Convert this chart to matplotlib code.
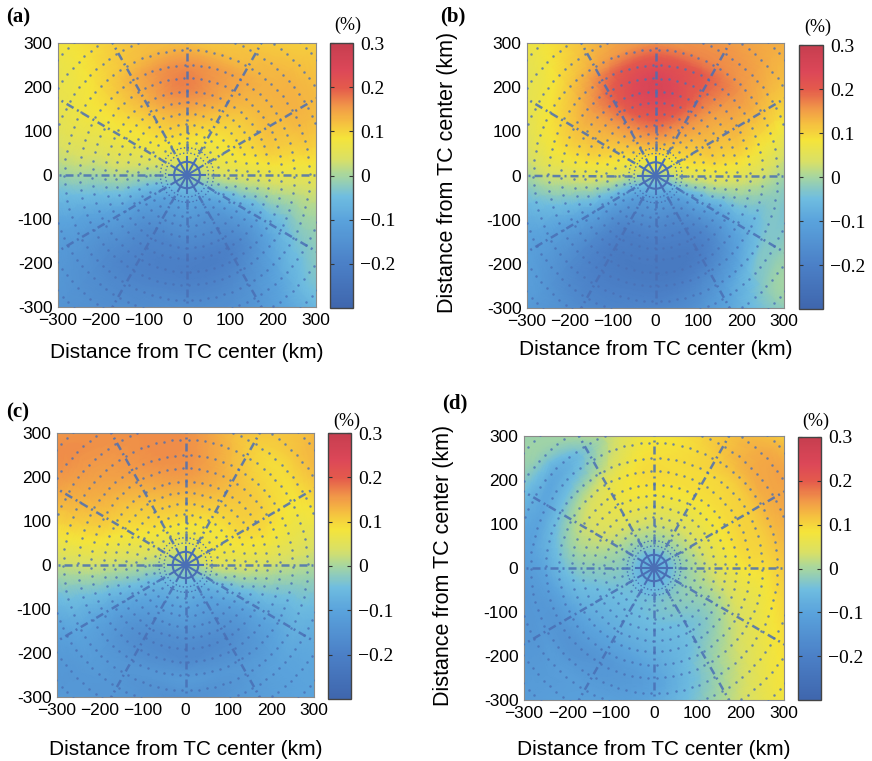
import numpy as np
import matplotlib
matplotlib.use("Agg")
import matplotlib.pyplot as plt
from matplotlib.colors import LinearSegmentedColormap
from matplotlib.tri import Triangulation, UniformTriRefiner

plt.rcParams["font.family"] = ["Liberation Sans", "DejaVu Sans"]

# composite fields sampled on a storm-relative polar grid
# azimuth in degrees counterclockwise from east, radius in km
azimuths = [0, 45, 90, 135, 180, 225, 270, 315]
radii = [50, 100, 150, 200, 250, 300, 350, 450]

center_a = 0.0
field_a = [
    [0.02, 0.04, 0.05, 0.06, 0.06, 0.06, 0.05, 0.04],
    [0.05, 0.08, 0.10, 0.12, 0.13, 0.13, 0.12, 0.10],
    [0.06, 0.10, 0.14, 0.17, 0.16, 0.12, 0.11, 0.10],
    [0.05, 0.08, 0.09, 0.10, 0.10, 0.09, 0.08, 0.08],
    [0.00, 0.00, 0.01, 0.00, 0.00, -0.01, -0.01, -0.01],
    [-0.07, -0.12, -0.15, -0.16, -0.17, -0.16, -0.15, -0.14],
    [-0.08, -0.13, -0.17, -0.20, -0.19, -0.16, -0.15, -0.14],
    [-0.06, -0.11, -0.14, -0.15, -0.12, -0.09, -0.07, -0.06],
]

center_b = 0.0
field_b = [
    [0.03, 0.05, 0.06, 0.05, 0.03, 0.00, -0.01, -0.01],
    [0.08, 0.12, 0.14, 0.15, 0.16, 0.15, 0.14, 0.13],
    [0.10, 0.17, 0.22, 0.25, 0.22, 0.16, 0.14, 0.12],
    [0.08, 0.12, 0.14, 0.15, 0.13, 0.10, 0.08, 0.07],
    [0.02, 0.04, 0.05, 0.04, 0.03, 0.00, -0.01, -0.02],
    [-0.08, -0.13, -0.16, -0.17, -0.17, -0.16, -0.14, -0.12],
    [-0.10, -0.16, -0.20, -0.22, -0.21, -0.18, -0.16, -0.14],
    [-0.08, -0.13, -0.16, -0.16, -0.12, -0.06, -0.03, -0.03],
]

center_c = 0.0
field_c = [
    [0.03, 0.04, 0.04, 0.03, 0.02, 0.01, 0.01, 0.02],
    [0.06, 0.08, 0.10, 0.11, 0.10, 0.09, 0.11, 0.13],
    [0.05, 0.09, 0.12, 0.15, 0.16, 0.16, 0.15, 0.14],
    [0.04, 0.08, 0.10, 0.12, 0.14, 0.15, 0.16, 0.15],
    [0.00, 0.01, 0.02, 0.03, 0.03, 0.02, 0.02, 0.02],
    [-0.05, -0.09, -0.12, -0.14, -0.13, -0.12, -0.13, -0.12],
    [-0.06, -0.10, -0.14, -0.17, -0.13, -0.15, -0.14, -0.13],
    [-0.05, -0.09, -0.12, -0.13, -0.12, -0.10, -0.10, -0.10],
]

center_d = -0.08
field_d = [
    [-0.03, 0.01, 0.05, 0.08, 0.09, 0.11, 0.12, 0.10],
    [-0.02, 0.03, 0.07, 0.09, 0.10, 0.13, 0.14, 0.08],
    [-0.02, 0.03, 0.07, 0.09, 0.09, 0.08, 0.08, 0.05],
    [-0.03, 0.02, 0.05, 0.04, -0.02, -0.08, -0.03, -0.01],
    [-0.04, -0.02, -0.02, -0.04, -0.09, -0.12, -0.10, -0.08],
    [-0.05, -0.05, -0.07, -0.10, -0.14, -0.12, -0.12, -0.12],
    [-0.05, -0.04, -0.06, -0.08, -0.10, -0.09, -0.07, -0.06],
    [-0.04, -0.02, -0.03, -0.01, 0.02, 0.04, 0.06, 0.08],
]

panel_labels = ["(a)", "(b)", "(c)", "(d)"]
axis_ticks = [-300, -200, -100, 0, 100, 200, 300]
xtick_labels = ["\u2212300", "\u2212200", "\u2212100", "0", "100", "200", "300"]
ytick_labels = ["-300", "-200", "-100", "0", "100", "200", "300"]
cbar_ticks = [-0.2, -0.1, 0, 0.1, 0.2, 0.3]
cbar_ticklabels = ["\u22120.2", "\u22120.1", "0", "0.1", "0.2", "0.3"]

# overlay of the polar analysis grid
spoke_angles = np.arange(0, 360, 30)
hub_spokes = np.arange(0, 360, 30)
dot_rings = [75, 95, 115, 140, 165, 190, 220, 250, 285, 320, 360, 400]
dotted_circles = [50, 62]

cmap = LinearSegmentedColormap.from_list("tc", [
    (0.0, "#3f66ad"), (0.167, "#4b80c7"), (0.333, "#5aa3dc"), (0.42, "#6fbde0"),
    (0.5, "#a6d6a0"), (0.56, "#d9e066"), (0.64, "#f5e43a"), (0.70, "#f5c040"),
    (0.76, "#f19848"), (0.833, "#e45a4c"), (0.9, "#dc4758"), (1.0, "#c63e4f"),
])
grid_color = "#4a6fb5"

W, H = 872, 761
fig = plt.figure(figsize=(W / 100, H / 100), dpi=100)


def frac(l, t, r, b):
    return [l / W, 1 - b / H, (r - l) / W, (b - t) / H]


# pixel boxes: axes, colorbar, label spot, (%) spot, xlabel pad, ylabel pad
layout = [
    dict(ax=(58, 43, 316, 307), cax=(330, 43, 353, 308), lab=(6, 17), pct=(348, 25), xpad=11, ypad=None),
    dict(ax=(527, 43, 784, 308), cax=(799, 45, 823, 309), lab=(440, 16), pct=(818, 27), xpad=8, ypad=11),
    dict(ax=(57, 433, 314, 697), cax=(328, 433, 351, 699), lab=(6, 412), pct=(347, 421), xpad=16, ypad=None),
    dict(ax=(524, 436, 784, 700), cax=(798, 437, 821, 700), lab=(442, 403), pct=(816, 421), xpad=14, ypad=9),
]

fields = [field_a, field_b, field_c, field_d]
centers = [center_a, center_b, center_c, center_d]


def draw_grid(ax):
    for ang in spoke_angles:
        t = np.deg2rad(ang)
        ax.plot([55 * np.cos(t), 460 * np.cos(t)], [55 * np.sin(t), 460 * np.sin(t)],
                color=grid_color, lw=1.8, dashes=(3.2, 1.6, 0.8, 1.6), alpha=0.85, zorder=3)
    for r in dot_rings:
        n = int(2 * np.pi * r / 19)
        th = np.linspace(0, 2 * np.pi, n, endpoint=False) + 0.3 * r
        ax.plot(r * np.cos(th), r * np.sin(th), "o", ms=1.8, mew=0, color=grid_color,
                alpha=0.8, zorder=3)
    th = np.linspace(0, 2 * np.pi, 200)
    for r in dotted_circles:
        ax.plot(r * np.cos(th), r * np.sin(th), ls=":", lw=1.0, color=grid_color, zorder=3)
    ax.plot(30 * np.cos(th), 30 * np.sin(th), lw=1.5, color=grid_color, zorder=3)
    for ang in hub_spokes:
        t = np.deg2rad(ang)
        ax.plot([0, 42 * np.cos(t)], [0, 42 * np.sin(t)], lw=1.5, color=grid_color, zorder=3)


for i, lay in enumerate(layout):
    ax = fig.add_axes(frac(*lay["ax"]))
    cax = fig.add_axes(frac(*lay["cax"]))

    th = np.deg2rad(np.repeat(azimuths, len(radii)))
    rr = np.tile(radii, len(azimuths))
    x = np.concatenate([[0.0], rr * np.cos(th)])
    y = np.concatenate([[0.0], rr * np.sin(th)])
    z = np.concatenate([[centers[i]], np.array(fields[i]).ravel()])
    tri = Triangulation(x, y)
    tri_f, z_f = UniformTriRefiner(tri).refine_field(z, subdiv=4)
    mesh = ax.tripcolor(tri_f, z_f, shading="gouraud", cmap=cmap, vmin=-0.3, vmax=0.3, zorder=1)

    draw_grid(ax)

    ax.set_xlim(-300, 300)
    ax.set_ylim(-300, 300)
    ax.set_xticks(axis_ticks)
    ax.set_xticklabels(xtick_labels)
    ax.set_yticks(axis_ticks)
    ax.set_yticklabels(ytick_labels)
    ax.tick_params(labelsize=12.5, direction="in", length=0, pad=4)
    for s in ax.spines.values():
        s.set_color("#8a8a8a")
        s.set_linewidth(0.8)
    ax.set_xlabel("Distance from TC center (km)", fontsize=15, labelpad=lay["xpad"])
    if lay["ypad"] is not None:
        ax.set_ylabel("Distance from TC center (km)", fontsize=15.5, labelpad=lay["ypad"])
        ax.yaxis.set_label_coords(-0.27, 0.51)

    cb = fig.colorbar(mesh, cax=cax, ticks=cbar_ticks)
    cb.ax.set_yticklabels(cbar_ticklabels, family="Liberation Serif", fontsize=14)
    cb.ax.tick_params(direction="in", left=True, right=True, length=3, width=0.8, color="#333333", pad=5)
    cb.outline.set_edgecolor("#444444")
    cb.outline.set_linewidth(1.0)

    fig.text(lay["lab"][0] / W, 1 - lay["lab"][1] / H, panel_labels[i], family="Liberation Serif",
             fontweight="bold", fontsize=15, ha="left", va="center")
    fig.text(lay["pct"][0] / W, 1 - lay["pct"][1] / H, "(%)", family="Liberation Serif",
             fontsize=13, ha="center", va="center")

fig.savefig("out.png", dpi=100)
